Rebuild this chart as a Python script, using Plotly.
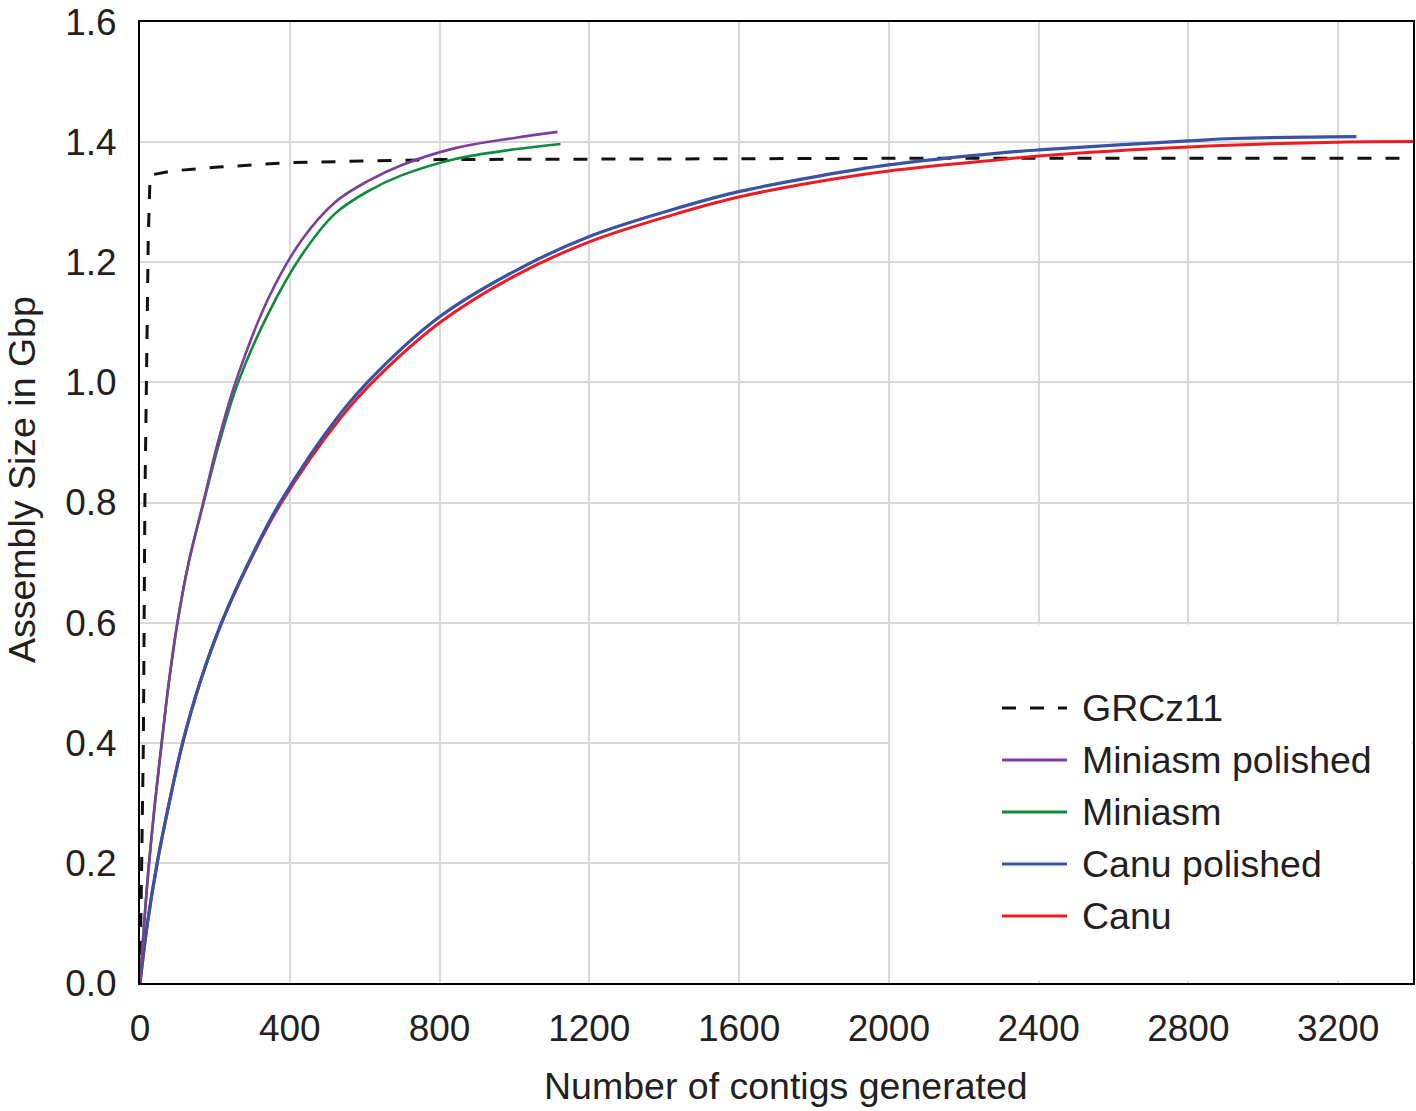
import plotly.graph_objects as go

# ---------------- data ----------------
grcz11_x = [0, 5, 9, 11, 13, 18, 22, 27, 85, 200, 400, 800, 1200, 2000, 3377]
grcz11_y = [0, 0.2, 0.4, 0.6, 0.8, 1.04, 1.24, 1.345, 1.352, 1.358, 1.366, 1.371, 1.372, 1.373, 1.373]

mini_pol_x = [0, 20, 40, 58, 77, 100, 130, 169, 208, 255, 343, 432, 521, 611, 700, 842, 1000, 1115]
mini_pol_y = [0, 0.17, 0.3, 0.4, 0.5, 0.6, 0.7, 0.8, 0.9, 1.0, 1.14, 1.237, 1.300, 1.336, 1.362, 1.390, 1.407, 1.417]

mini_x = [0, 20, 40, 58, 77, 100, 130, 170, 212, 262, 343, 432, 521, 611, 700, 842, 1000, 1123]
mini_y = [0, 0.17, 0.3, 0.4, 0.5, 0.6, 0.7, 0.8, 0.9, 1.0, 1.115, 1.212, 1.281, 1.319, 1.345, 1.372, 1.388, 1.397]

canu_pol_x = [0, 20, 46, 78, 114, 160, 218, 290, 374, 535, 632, 802, 991, 1200, 1451, 1602, 1809, 2000, 2299, 2400, 2800, 2923, 3249]
canu_pol_y = [0, 0.1, 0.2, 0.3, 0.4, 0.5, 0.6, 0.7, 0.8, 0.948, 1.016, 1.11, 1.182, 1.243, 1.293, 1.318, 1.343, 1.362, 1.382, 1.387, 1.402, 1.406, 1.409]

canu_x = [0, 20, 46, 78, 114, 160, 218, 290, 374, 535, 632, 802, 991, 1200, 1451, 1602, 1809, 2000, 2299, 2400, 2800, 3200, 3400]
canu_y = [0, 0.1, 0.2, 0.3, 0.4, 0.5, 0.6, 0.698, 0.796, 0.940, 1.007, 1.10, 1.174, 1.234, 1.284, 1.309, 1.334, 1.352, 1.371, 1.377, 1.392, 1.400, 1.401]

x_ticks = [0, 400, 800, 1200, 1600, 2000, 2400, 2800, 3200]
y_ticks = [0.0, 0.2, 0.4, 0.6, 0.8, 1.0, 1.2, 1.4, 1.6]

series_names = ["GRCz11", "Miniasm polished", "Miniasm", "Canu polished", "Canu"]

# ---------------- style ----------------
FONT = "Liberation Sans, Arial, Helvetica, sans-serif"
TXT = "#231f20"
GRID = "#d9d9d9"
C_BLACK = "#111111"
C_PURPLE = "#7b3f99"
C_GREEN = "#0f8a3c"
C_BLUE = "#3953a4"
C_RED = "#ed1c24"
DASH = "14px,14px"
FS_TICK = 37
FS_TEXT = 37.5
SMOOTH = 1.0

fig = go.Figure()

# white box behind the legend area (hides the grid there)
fig.add_shape(type="rect", xref="x", yref="y", x0=2004, x1=3396, y0=0.004, y1=0.597,
              fillcolor="white", line=dict(width=0), layer="above")

fig.add_trace(go.Scatter(x=grcz11_x, y=grcz11_y, mode="lines", name=series_names[0],
                         line=dict(color=C_BLACK, width=3, dash=DASH)))
fig.add_trace(go.Scatter(x=canu_x, y=canu_y, mode="lines", name=series_names[4],
                         line=dict(color=C_RED, width=3, shape="spline", smoothing=SMOOTH)))
fig.add_trace(go.Scatter(x=canu_pol_x, y=canu_pol_y, mode="lines", name=series_names[3],
                         line=dict(color=C_BLUE, width=3.2, shape="spline", smoothing=SMOOTH)))
fig.add_trace(go.Scatter(x=mini_x, y=mini_y, mode="lines", name=series_names[2],
                         line=dict(color=C_GREEN, width=2.6, shape="spline", smoothing=SMOOTH)))
fig.add_trace(go.Scatter(x=mini_pol_x, y=mini_pol_y, mode="lines", name=series_names[1],
                         line=dict(color=C_PURPLE, width=2.6, shape="spline", smoothing=SMOOTH)))

# ---------------- manual legend ----------------
leg_colors = [C_BLACK, C_PURPLE, C_GREEN, C_BLUE, C_RED]
leg_dash = [DASH, "solid", "solid", "solid", "solid"]
leg_py = [708, 760, 812, 864, 916]
L, R, T, B = 140, 1413, 22, 983
def px2paper_x(p):
    return (p - L) / (R - L)
def py2paper_y(p):
    return (B - p) / (B - T)

for name, col, dsh, py in zip(series_names, leg_colors, leg_dash, leg_py):
    yy = py2paper_y(py)
    fig.add_shape(type="line", xref="paper", yref="paper",
                  x0=px2paper_x(1002), x1=px2paper_x(1067), y0=yy, y1=yy,
                  line=dict(color=col, width=3, dash=dsh), layer="above")
    fig.add_annotation(xref="paper", yref="paper", x=px2paper_x(1080), y=yy,
                       text=name, showarrow=False, xanchor="left", yanchor="middle",
                       font=dict(family=FONT, size=FS_TEXT, color=TXT))

# axis titles
fig.add_annotation(xref="paper", yref="paper", x=px2paper_x(786), y=py2paper_y(1086),
                   text="Number of contigs generated", showarrow=False,
                   xanchor="center", yanchor="middle",
                   font=dict(family=FONT, size=FS_TEXT, color=TXT))
fig.add_annotation(xref="paper", yref="paper", x=px2paper_x(22), y=py2paper_y(480),
                   text="Assembly Size in Gbp", showarrow=False, textangle=-90,
                   xanchor="center", yanchor="middle",
                   font=dict(family=FONT, size=FS_TEXT, color=TXT))

fig.update_layout(
    width=1416, height=1111,
    margin=dict(l=L, r=1416 - R, t=T, b=1111 - B, autoexpand=False),
    paper_bgcolor="white", plot_bgcolor="white",
    showlegend=False,
    font=dict(family=FONT, size=FS_TICK, color=TXT),
)
fig.update_xaxes(range=[0, 3400], tickvals=x_ticks, ticktext=[str(v) for v in x_ticks],
                 showgrid=True, gridcolor=GRID, gridwidth=1.5, zeroline=False,
                 showline=True, linecolor="black", linewidth=2, mirror=True,
                 ticks="", ticklabelstandoff=12, automargin=False,
                 tickfont=dict(family=FONT, size=FS_TICK, color=TXT))
fig.update_yaxes(range=[0, 1.6], tickvals=y_ticks, ticktext=[f"{v:.1f}" for v in y_ticks],
                 showgrid=True, gridcolor=GRID, gridwidth=1.5, zeroline=False,
                 showline=True, linecolor="black", linewidth=2, mirror=True,
                 ticks="", ticklabelstandoff=14, automargin=False,
                 tickfont=dict(family=FONT, size=FS_TICK, color=TXT))

fig.write_html(
    "out.html",
    config={"displayModeBar": False},
    post_script="document.body.style.margin='0px';document.body.style.overflow='hidden';",
)
